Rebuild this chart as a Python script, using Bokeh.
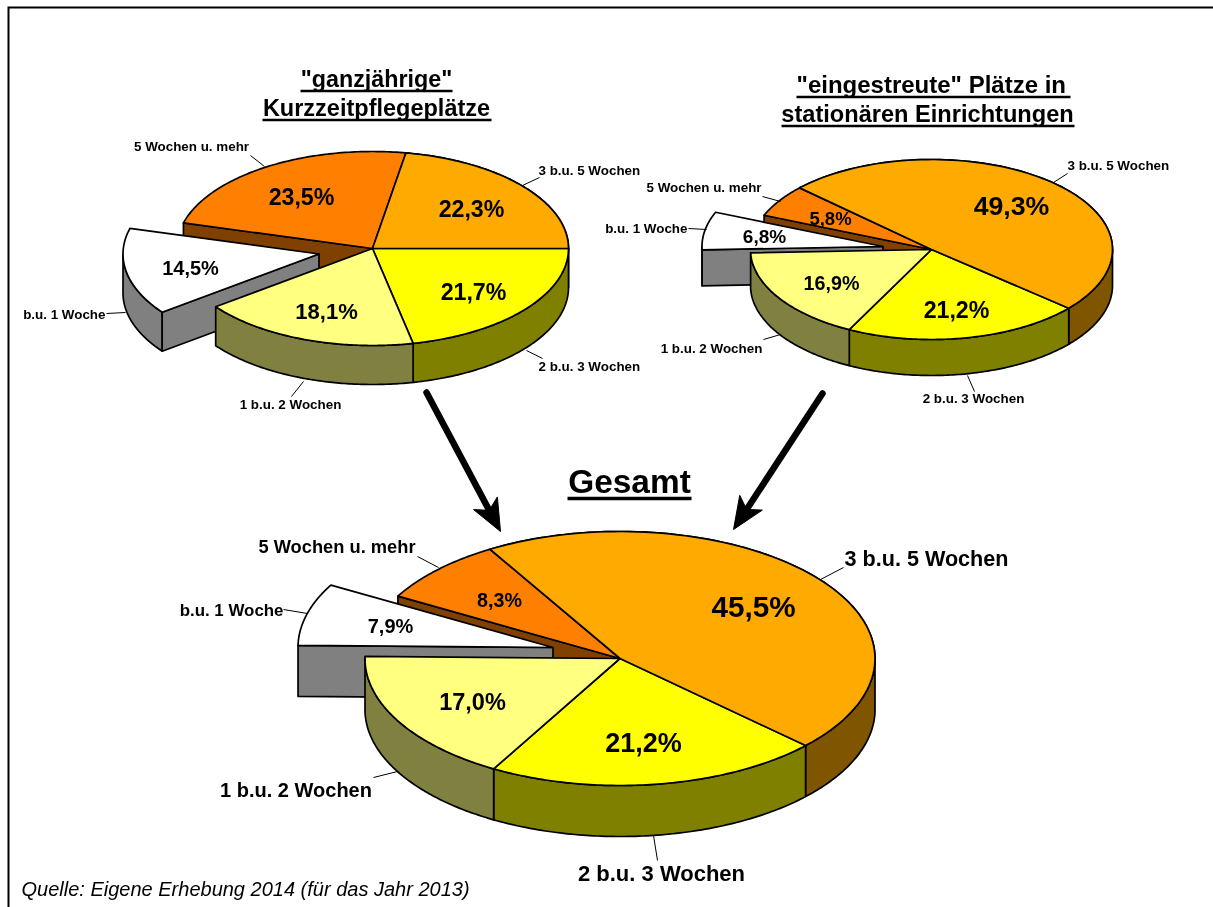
import math
from bokeh.plotting import figure
from bokeh.models import Range1d
from bokeh.core.properties import value
from bokeh.embed import file_html
from bokeh.resources import INLINE

# ---- data ----
categories = ["2 b.u. 3 Wochen", "1 b.u. 2 Wochen", "b.u. 1 Woche", "5 Wochen u. mehr", "3 b.u. 5 Wochen"]
values_ganz = [21.7, 18.1, 14.5, 23.5, 22.3]
values_einge = [21.2, 16.9, 6.8, 5.8, 49.3]
values_gesamt = [21.2, 17.0, 7.9, 8.3, 45.5]
title_ganz = ['"ganzjährige"', "Kurzzeitpflegeplätze"]
title_einge = ['"eingestreute" Plätze in ', "stationären Einrichtungen"]
title_gesamt = "Gesamt"
source_note = "Quelle: Eigene Erhebung 2014 (für das Jahr 2013)"

# ---- styles ----
TOP = ["#FFFF00", "#FFFF80", "#FFFFFF", "#FF8000", "#FFAA00"]
WALL = ["#808000", "#808040", "#808080", "#804000", "#805500"]
FONT = value("Liberation Sans")

W, H = 1213, 907
p = figure(width=W, height=H, x_range=Range1d(0, W), y_range=Range1d(H, 0),
           output_backend="svg", toolbar_location=None, min_border=0,
           x_axis_location=None, y_axis_location=None, outline_line_color=None)
p.grid.visible = False
p.styles = {"position": "fixed", "left": "0px", "top": "0px"}

LW = 1.7


def ell(cx, cy, rx, ry, a0, a1, n=90):
    xs, ys = [], []
    for i in range(n + 1):
        a = math.radians(a0 + (a1 - a0) * i / n)
        xs.append(cx + rx * math.cos(a))
        ys.append(cy + ry * math.sin(a))
    return xs, ys


def poly(xs, ys, fill, lw=LW):
    p.patch(xs, ys, fill_color=fill, line_color="black", line_width=lw, line_join="round")


def outer_wall(cx, cy, rx, ry, d, a0, a1, fill):
    # the wall is visible only for the front half of each revolution
    for shift in (0, 360):
        lo, hi = max(a0, shift), min(a1, shift + 180)
        if hi > lo:
            xs, ys = ell(cx, cy, rx, ry, lo, hi)
            poly(xs + [x for x in reversed(xs)], ys + [y + d for y in reversed(ys)], fill)


def cut_face(cx, cy, rx, ry, d, a, fill):
    ex = cx + rx * math.cos(math.radians(a))
    ey = cy + ry * math.sin(math.radians(a))
    poly([cx, ex, ex, cx], [cy, ey, ey + d, cy + d], fill)


def top(cx, cy, rx, ry, a0, a1, fill):
    xs, ys = ell(cx, cy, rx, ry, a0, a1)
    poly([cx] + xs, [cy] + ys, fill)


def pie3d(vals, cx, cy, rx, ry, d, start, ex, ey):
    total = sum(vals)
    edges = [start]
    for v in vals:
        edges.append(edges[-1] + v / total * 360)
    # rear slices first
    top(cx, cy, rx, ry, edges[4], edges[5], TOP[4])
    cut_face(cx, cy, rx, ry, d, edges[3], WALL[3])
    top(cx, cy, rx, ry, edges[3], edges[4], TOP[3])
    # exploded slice
    ax, ay = cx + ex, cy + ey
    outer_wall(ax, ay, rx, ry, d, edges[2], edges[3], WALL[2])
    cut_face(ax, ay, rx, ry, d, edges[2], WALL[2])
    top(ax, ay, rx, ry, edges[2], edges[3], TOP[2])
    # front walls
    outer_wall(cx, cy, rx, ry, d, edges[4], edges[5], WALL[4])
    outer_wall(cx, cy, rx, ry, d, edges[0], edges[1], WALL[0])
    outer_wall(cx, cy, rx, ry, d, edges[1], edges[2], WALL[1])
    # front tops
    top(cx, cy, rx, ry, edges[0], edges[1], TOP[0])
    top(cx, cy, rx, ry, edges[1], edges[2], TOP[1])
    top(cx, cy, rx, ry, edges[4], edges[5], TOP[4])
    return edges


def label(x, y, s, size, align="center", style="bold"):
    p.text([x], [y], text=[s], text_font=FONT, text_font_size=f"{size}px",
           text_font_style=style, text_align=align, text_baseline="middle", text_color="black")


def pct(v):
    return f"{v:.1f}%".replace(".", ",")


def leader(x0, y0, x1, y1):
    p.line([x0, x1], [y0, y1], line_color="black", line_width=1)


def rule(x0, x1, y, lw):
    p.line([x0, x1], [y, y], line_color="black", line_width=lw)


# frame: top and left edges only
p.line([8, 8, W], [H, 7, 7], line_color="black", line_width=2, line_join="miter")

# ---- pies ----
pie3d(values_ganz, 372, 248, 196, 97, 39, 0, -53.5, 5.5)
pie3d(values_einge, 931, 249, 181, 90, 36, 40.7, -48.5, -3)
pie3d(values_gesamt, 619.5, 658, 255, 127, 51, 43.3, -67, -11)

# ---- percentage labels ----
pos1 = [(473, 291, 23.2), (326, 311, 22), (190, 267, 20), (301, 196, 23.2), (471, 208, 23.2)]
pos2 = [(956, 309, 23.2), (831, 282, 19.7), (764, 236, 19), (830, 218, 18.5), (1011, 205, 26.7)]
pos3 = [(643, 742, 27), (472, 701, 23.5), (390, 625, 20), (499, 599, 19.7), (753, 606, 29.7)]
for vals, pos in ((values_ganz, pos1), (values_einge, pos2), (values_gesamt, pos3)):
    for v, (x, y, s) in zip(vals, pos):
        label(x, y, pct(v), s)

# ---- category labels and leaders ----
S = 13.4
for i, (x, y, al) in zip(range(5), [(538, 366, "left"), (290, 404, "center"), (105, 314, "right"),
                                    (191, 146, "center"), (538, 170, "left")]):
    label(x, y, categories[i], S, al)
for i, (x, y, al) in zip(range(5), [(973, 398, "center"), (711, 348, "center"), (687, 228, "right"),
                                    (703.5, 187, "center"), (1067, 165, "left")]):
    label(x, y, categories[i], S, al)
big = [(661, 873, "center", 22), (295.5, 789, "center", 20), (283, 610, "right", 16.9),
       (336.5, 546, "center", 18.3), (844, 558, "left", 21.6)]
for i, (x, y, al, s) in zip(range(5), big):
    label(x, y, categories[i], s, al)

for seg in [(526, 350, 542, 358), (303, 381, 291, 396), (106, 313, 125, 312), (250, 155, 264, 166),
            (522, 185, 539, 177),
            (967, 375, 974, 391), (763, 339, 780, 334), (688, 228, 706, 229), (762, 196, 780, 201),
            (1053, 182, 1067, 173),
            (653, 835, 657, 860), (373, 777, 397, 771), (283, 609, 307, 613), (417, 556, 438, 567),
            (820, 579, 843, 567)]:
    leader(*seg)

# ---- arrows ----
for (x0, y0, x1, y1) in [(426, 392, 500, 531), (822, 393, 733, 529)]:
    ang = math.atan2(y1 - y0, x1 - x0)
    hl, hw, notch = 32, 13.5, 24
    bx, by = x1 - notch * math.cos(ang), y1 - notch * math.sin(ang)
    p.line([x0, bx], [y0, by], line_color="black", line_width=6.5, line_cap="round")
    nx, ny = -math.sin(ang), math.cos(ang)
    hx, hy = x1 - hl * math.cos(ang), y1 - hl * math.sin(ang)
    p.patch([x1, hx + nx * hw, bx, hx - nx * hw], [y1, hy + ny * hw, by, hy - ny * hw],
            fill_color="black", line_color="black", line_width=1)

# ---- titles ----
label(376, 78, title_ganz[0], 23.3)
label(376, 107, title_ganz[1], 23.5)
rule(300, 452, 90.5, 2.5)
rule(262, 491, 119.5, 2.5)
label(796, 84, title_einge[0], 24, "left")
label(927, 113, title_einge[1], 23.6)
rule(796, 1070, 96.5, 2.5)
rule(781, 1074, 125.5, 2.5)
label(629, 481, title_gesamt, 33.4)
rule(567, 691, 498, 3.5)

label(21, 888, source_note, 20, "left", "italic")

open("out.html", "w").write(file_html(p, INLINE))
